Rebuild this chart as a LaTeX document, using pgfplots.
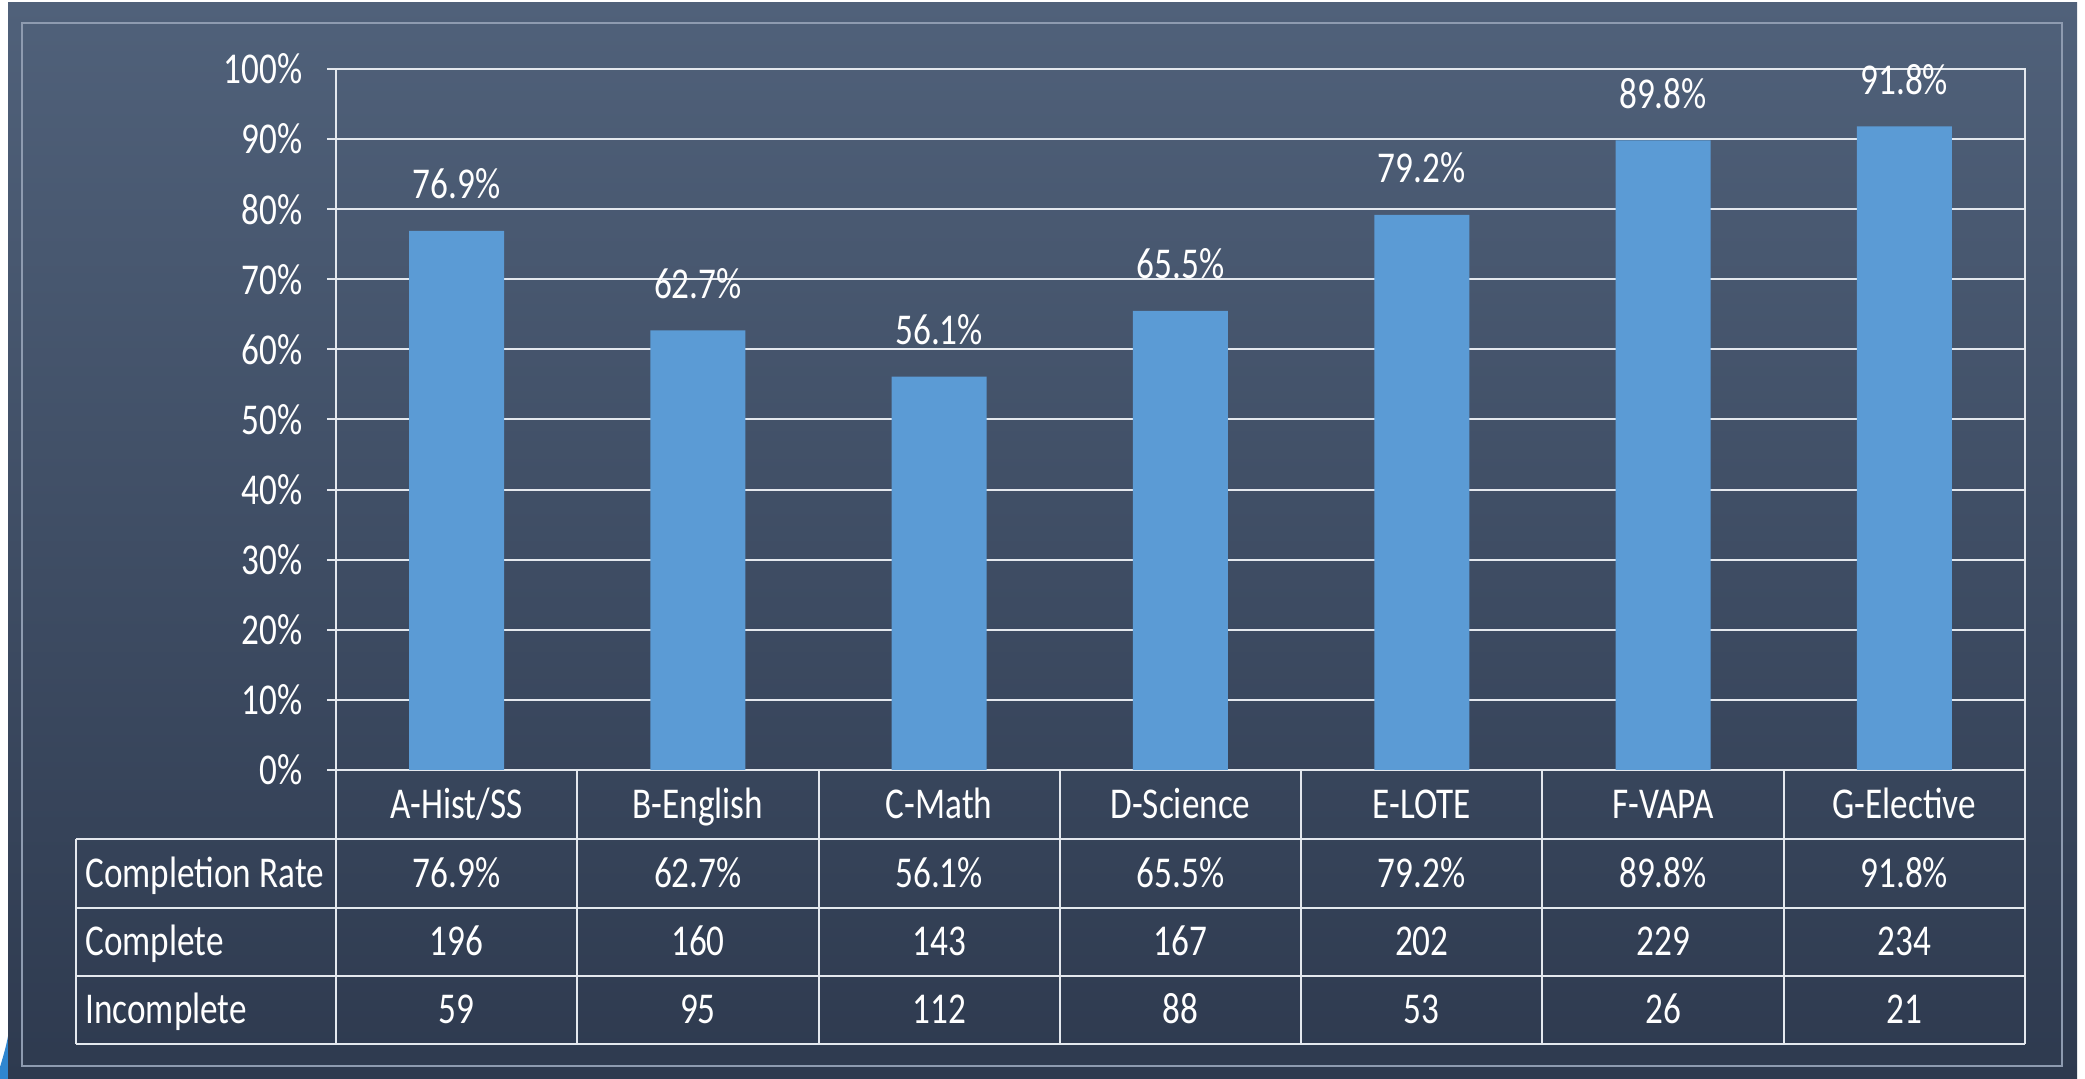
\documentclass[border=0pt]{standalone}
\usepackage{fontspec}
\setmainfont{Carlito}[FakeStretch=0.8]
\usepackage{pgfplots}
\pgfplotsset{compat=1.18}
\usepackage{pgfplotstable}
\definecolor{bgtop}{HTML}{50617A}
\definecolor{bgbot}{HTML}{2E3A4F}
\definecolor{barblue}{HTML}{5B9BD5}
\definecolor{gridc}{HTML}{E4E8EE}
\definecolor{framec}{HTML}{8E9BB0}
\definecolor{swirl}{HTML}{2F86D0}
\newcommand\cf{\fontsize{22}{26}\selectfont}

\pgfplotstableread{
x rate complete incomplete
0 76.9 196 59
1 62.7 160 95
2 56.1 143 112
3 65.5 167 88
4 79.2 202 53
5 89.8 229 26
6 91.8 234 21
}\data

\begin{document}
\begin{tikzpicture}[x=0.5pt,y=0.5pt]
\useasboundingbox (0,0) rectangle (2085,1079);
\fill[white] (0,0) rectangle (2085,1079);
\fill[swirl] (0,0) -- (0,12) .. controls (4,25) and (7,36) .. (9,48) -- (9,0) -- cycle;
\shade[top color=bgtop, bottom color=bgbot] (8,0) rectangle (2077,1076);
\draw[framec, line width=1pt] (22,13) rectangle (2062,1056);
\begin{axis}[
  at={(168pt,154.5pt)}, anchor=south west,
  width=844.5pt, height=350.5pt, scale only axis,
  xmin=-0.5, xmax=6.5, ymin=0, ymax=100,
  clip=false,
  axis line style={gridc, line width=1pt},
  xtick=\empty,
  ytick={0,10,...,100},
  yticklabel={\pgfmathprintnumber{\tick}\%},
  ymajorgrids, grid style={gridc, line width=1pt},
  ytick pos=left, tick align=outside, major tick length=4.5pt,
  tick style={gridc, line width=1pt},
  yticklabel style={font=\cf, text=white, anchor=east, inner sep=0pt, xshift=-12pt},
  /pgf/number format/assume math mode=true,
]
\addplot[ybar, bar width=47.5pt, fill=barblue, draw=none, point meta=y,
  nodes near coords={\pgfmathprintnumber[fixed,fixed zerofill,precision=1]{\pgfplotspointmeta}\%},
  every node near coord/.append style={font=\cf, text=white, anchor=base, yshift=16pt, inner sep=0pt}]
  table[x=x, y=rate] {\data};

% data table grid
\pgfplotsinvokeforeach{-0.5,0.5,1.5,2.5,3.5,4.5,5.5,6.5}{
  \draw[gridc, line width=1pt] (axis cs:#1,0) -- (axis cs:#1,-39.09);
}
\pgfplotsinvokeforeach{-9.84,-19.69,-29.39,-39.09}{
  \draw[gridc, line width=1pt] (axis cs:-1.5775,#1) -- (axis cs:6.5,#1);
}
\draw[gridc, line width=1pt] (axis cs:-1.5775,-9.84) -- (axis cs:-1.5775,-39.09);

% categories
\begin{scope}[every node/.style={font=\cf, text=white, anchor=base, inner sep=0pt}]
\node at (axis cs:0,-6.92) {A-Hist/SS};
\node at (axis cs:1,-6.92) {B-English};
\node at (axis cs:2,-6.92) {C-Math};
\node at (axis cs:3,-6.92) {D-Science};
\node at (axis cs:4,-6.92) {E-LOTE};
\node at (axis cs:5,-6.92) {F-VAPA};
\node at (axis cs:6,-6.92) {G-Elective};

\node[anchor=base west] at (axis cs:-1.54,-16.76) {Completion Rate};
\node[anchor=base west] at (axis cs:-1.54,-26.53) {Complete};
\node[anchor=base west] at (axis cs:-1.54,-36.23) {Incomplete};

\node at (axis cs:0,-16.76) {76.9\%};
\node at (axis cs:1,-16.76) {62.7\%};
\node at (axis cs:2,-16.76) {56.1\%};
\node at (axis cs:3,-16.76) {65.5\%};
\node at (axis cs:4,-16.76) {79.2\%};
\node at (axis cs:5,-16.76) {89.8\%};
\node at (axis cs:6,-16.76) {91.8\%};

\node at (axis cs:0,-26.53) {196};
\node at (axis cs:1,-26.53) {160};
\node at (axis cs:2,-26.53) {143};
\node at (axis cs:3,-26.53) {167};
\node at (axis cs:4,-26.53) {202};
\node at (axis cs:5,-26.53) {229};
\node at (axis cs:6,-26.53) {234};

\node at (axis cs:0,-36.23) {59};
\node at (axis cs:1,-36.23) {95};
\node at (axis cs:2,-36.23) {112};
\node at (axis cs:3,-36.23) {88};
\node at (axis cs:4,-36.23) {53};
\node at (axis cs:5,-36.23) {26};
\node at (axis cs:6,-36.23) {21};
\end{scope}
\end{axis}
\end{tikzpicture}
\end{document}
